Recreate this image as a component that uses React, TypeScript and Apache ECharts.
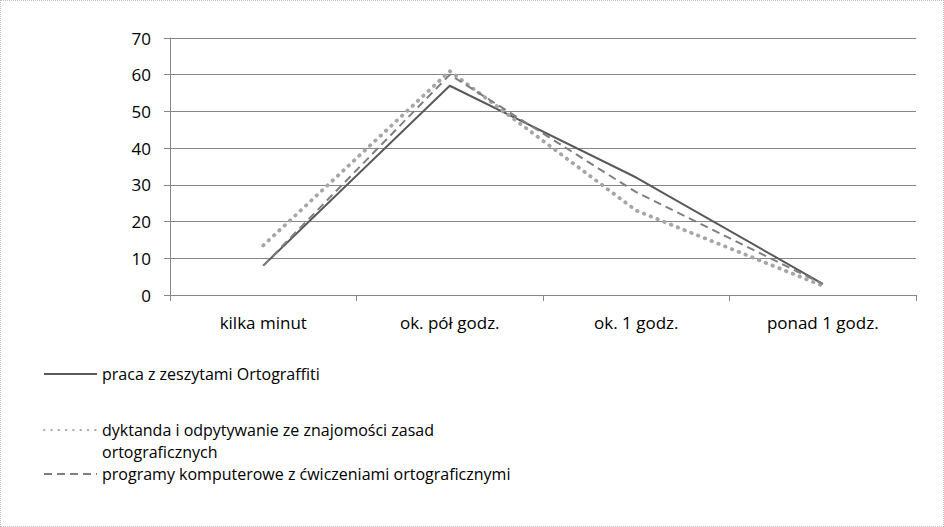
import React, { useEffect, useRef } from "react";
import * as echarts from "echarts";

const categories = ["kilka minut", "ok. pół godz.", "ok. 1 godz.", "ponad 1 godz."];
const seriesNames = [
  "praca z zeszytami Ortograffiti",
  "dyktanda i odpytywanie ze znajomości zasad\nortograficznych",
  "programy komputerowe z ćwiczeniami ortograficznymi",
];
const zeszyty = [8, 57, 32, 3];
const dyktanda = [13.5, 61, 23, 2.5];
const programy = [8, 60, 28, 3];
const yTicks = { min: 0, max: 70, interval: 10 };

const FONT = "Open Sans";
const FS = 17;
const LFS = 16;

export default function App() {
  const ref = useRef<HTMLDivElement>(null);
  useEffect(() => {
    document.body.style.margin = "0";
    const chart = echarts.init(ref.current!, null, { renderer: "svg" });
    const legendBase = {
      orient: "vertical" as const,
      left: 42,
      padding: 0,
      itemWidth: 53,
      itemHeight: 14,
      itemGap: 0,
      selectedMode: false,
      itemStyle: { opacity: 0 },
      textStyle: { fontFamily: FONT, fontSize: LFS, color: "#000", lineHeight: 22 },
    };
    chart.setOption({
      animation: false,
      backgroundColor: "#fff",
      grid: { left: 169, right: 27, top: 37, bottom: 231 },
      legend: [
        { ...legendBase, top: 362, data: [seriesNames[0]] },
        {
          ...legendBase,
          top: 396,
          data: [seriesNames[1]],
          formatter: (name: string) => "\u00a0\n" + name,
        },
        { ...legendBase, top: 462, data: [seriesNames[2]] },
      ],
      xAxis: {
        type: "category",
        data: categories,
        boundaryGap: true,
        axisLine: { lineStyle: { color: "#868686", width: 1 } },
        axisTick: { show: true, length: 6, lineStyle: { color: "#868686" } },
        axisLabel: { fontFamily: FONT, fontSize: FS, color: "#000", margin: 19 },
      },
      yAxis: {
        type: "value",
        ...yTicks,
        axisLine: { show: true, lineStyle: { color: "#868686", width: 1 } },
        axisTick: { show: true, length: 6, lineStyle: { color: "#868686" } },
        axisLabel: { fontFamily: FONT, fontSize: FS, color: "#000", margin: 19 },
        splitLine: { lineStyle: { color: "#868686", width: 1 } },
      },
      series: [
        {
          name: seriesNames[0],
          type: "line",
          data: zeszyty,
          symbol: "none",
          lineStyle: { color: "#595959", width: 2, type: "solid" },
          itemStyle: { color: "#595959" },
        },
        {
          name: seriesNames[1],
          type: "line",
          data: dyktanda,
          symbol: "none",
          lineStyle: { color: "#A6A6A6", width: 3.8, type: [0.5, 6.8], cap: "round" },
          itemStyle: { color: "#A6A6A6" },
        },
        {
          name: seriesNames[2],
          type: "line",
          data: programy,
          symbol: "none",
          lineStyle: { color: "#7F7F7F", width: 2, type: [8, 5] },
          itemStyle: { color: "#7F7F7F" },
        },
      ],
    });
    return () => chart.dispose();
  }, []);
  return (
    <div
      ref={ref}
      style={{
        width: 944,
        height: 527,
        boxSizing: "border-box",
        border: "1px dotted #bfbfbf",
      }}
    />
  );
}
